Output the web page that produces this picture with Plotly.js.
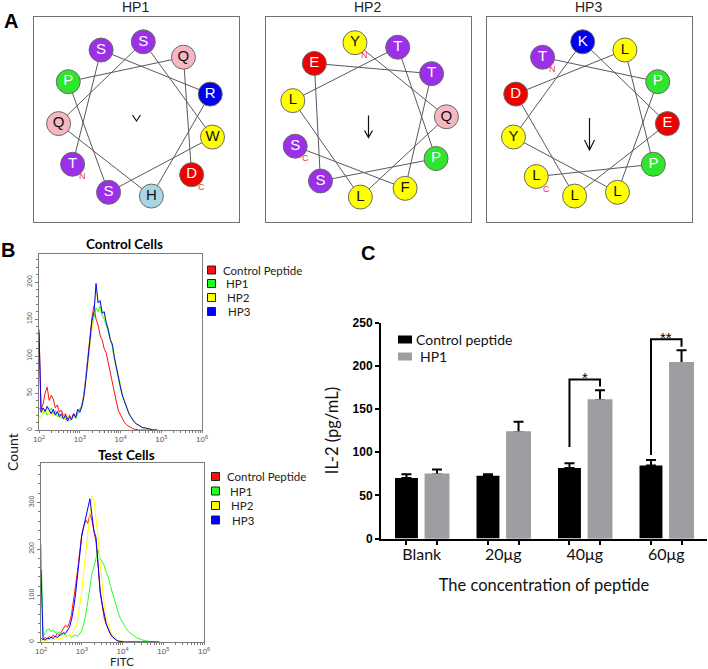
<!DOCTYPE html>
<html>
<head>
<meta charset="utf-8">
<script src="https://cdn.plot.ly/plotly-3.0.1.min.js"></script>
<style>
html,body{margin:0;padding:0;background:#fff;}
#chart{width:708px;height:669px;}
</style>
</head>
<body>
<div id="chart"></div>
<script>
// ======================= DATA =======================
// Panel A – helical wheels (residues listed N -> C in wheel order)
const WHEEL_NAMES = ['HP1', 'HP2', 'HP3'];
const HP1_SEQ = ['T','S','R','H','Q','S','W','S','P','Q','D'];
const HP2_SEQ = ['Y','Q','L','L','T','P','S','E','T','F','S'];
const HP3_SEQ = ['T','P','L','Y','K','E','L','D','L','P','L'];
const WHEEL_START_DEG = [215, 100, 127];   // angle of the N-terminal residue
const WHEEL_STEP_DEG = 98;                 // angular step between residues as drawn
const HP_MOMENT = [0, 22, 32];             // hydrophobic moment arrow length

// Panel B – flow cytometry histograms (log10 FITC channel vs count)
const FLOW_SERIES = ['Control Peptide', 'HP1', 'HP2', 'HP3'];
const LOG_CHANNEL = [2.00,2.05,2.10,2.15,2.20,2.25,2.30,2.35,2.40,2.45,2.50,2.55,2.60,2.65,2.70,2.75,2.80,2.85,2.90,2.95,
  3.00,3.05,3.10,3.15,3.20,3.25,3.30,3.35,3.40,3.45,3.50,3.55,3.60,3.65,3.70,3.75,3.80,3.85,3.90,3.95,
  4.00,4.05,4.10,4.15,4.20,4.25,4.30,4.35,4.40,4.45,4.50,4.55,4.60,4.65,4.70,4.75,4.80,4.85,4.90];
const CTRL_CONTROL_PEPTIDE = [136,28,35,50,58,40,47,42,30,34, 24,27,19,22,15,20,16,22,18,24,
  28,33,48,72,98,128,152,168,150,142, 128,122,110,104,90,76,64,47,38,26,
  20,14,10,7,5,3,2,1,0,0, 0,0,0,0,0,0,0,0,0];
const CTRL_HP1 = [30,26,22,28,20,25,30,22,26,18, 22,16,20,14,18,12,16,20,15,22,
  25,30,44,66,90,118,140,152,165,160, 168,155,150,142,132,120,112,96,82,70,
  56,46,38,30,24,19,14,10,8,6, 4,3,2,2,1,1,0,0,0];
const CTRL_HP2 = [20,15,28,22,30,20,26,18,24,20, 17,22,13,18,20,14,18,16,20,24,
  26,34,46,70,95,120,145,165,185,178, 170,160,155,146,138,125,115,100,86,72,
  60,48,40,32,25,20,15,11,8,6, 5,3,2,2,1,1,0,0,0];
const CTRL_HP3 = [132,24,30,25,32,26,22,28,20,25, 18,22,15,20,12,18,14,22,17,28,
  24,32,45,68,94,122,148,160,198,172, 175,158,160,145,136,122,116,98,84,68,
  58,46,38,30,23,18,14,10,8,6, 4,3,3,2,1,1,0,0,0];
const TEST_CONTROL_PEPTIDE = [8,4,10,6,12,9,15,11,18,14, 22,28,36,32,42,60,88,122,155,195,
  232,250,262,255,275,262,240,215,168,108, 80,52,38,26,18,11,7,4,2,1,
  0,0,0,0,0,0,0,0,0,0, 0,0,0,0,0,0,0,0,0];
const TEST_HP1 = [210,12,20,26,28,22,26,20,18,22, 15,19,14,12,16,10,13,15,12,18,
  24,40,60,88,118,148,162,182,198,180, 172,165,150,140,122,106,92,76,62,50,
  42,34,28,22,18,15,12,9,7,5, 4,3,2,1,1,0,0,0,0];
const TEST_HP2 = [4,2,5,3,6,4,7,5,8,6, 9,8,11,12,15,18,24,30,48,78,
  110,152,195,240,285,315,305,268,225,170, 118,80,56,38,25,16,10,6,3,2,
  1,0,0,0,0,0,0,0,0,0, 0,0,0,0,0,0,0,0,0];
const TEST_HP3 = [155,6,4,8,7,10,8,12,10,14, 16,20,18,25,32,48,72,105,142,185,
  228,248,270,288,308,272,238,225,172,112, 82,58,40,28,18,12,7,4,2,1,
  0,0,0,0,0,0,0,0,0,0, 0,0,0,0,0,0,0,0,0];

// Panel C – IL-2 secretion
const CONC = ['Blank', '20μg', '40μg', '60μg'];
const BAR_SERIES = ['Control peptide', 'HP1'];
const IL2_CONTROL = [70, 72.5, 81.5, 84.5];
const IL2_CONTROL_ERR = [4.5, 2, 5.5, 6.5];
const IL2_HP1 = [74, 123, 160, 203];
const IL2_HP1_ERR = [6, 12, 11.5, 15];
const SIG_CONC = ['40μg', '60μg'];
const SIG_LABEL = ['*', '**'];
const SIG_LEFT_FROM = [106, 96.5];
const SIG_TOP = [184, 230.5];
const SIG_RIGHT_TO = [176, 222];

// ======================= STYLE =======================
const W = 708, H = 669;
const px = v => v / W;
const py = v => (H - v) / H;
const CALIBRI = 'Lato, "Open Sans", sans-serif';
const ARIAL = '"Liberation Sans", Arial, sans-serif';

const RES_FILL = {S:'#9b30e8', T:'#9b30e8', Q:'#f5b8c2', P:'#2ee62e', R:'#0000ee', K:'#0000ee',
  W:'#ffff00', Y:'#ffff00', L:'#ffff00', F:'#ffff00', D:'#ee0000', E:'#ee0000', H:'#a9d6e4'};
const RES_TEXT = {S:'#fff', T:'#fff', Q:'#111', P:'#fff', R:'#fff', K:'#fff',
  W:'#111', Y:'#111', L:'#111', F:'#111', D:'#fff', E:'#fff', H:'#111'};
const WHEEL_BOX_X = [[34, 239], [266, 471], [487, 692]];
const WHEEL_BOX_Y = [17, 222];
const WHEEL_HALF = 102.5;
const WHEEL_R = 78;
const ARROW_TIP = [-1.5, -18, -30.5];
const ARROW_HEAD = [[4, 6], [4, 7], [5, 10]];

const FLOW_COLORS = ['#ff1010', '#22ff22', '#ffff00', '#0000ff'];
const BAR_COLORS = ['#000000', '#9e9ea2'];

const traces = [];
const shapes = [];
const annotations = [];
const layout = {
  width: W, height: H,
  margin: {l: 0, r: 0, t: 0, b: 0},
  paper_bgcolor: '#fff', plot_bgcolor: 'rgba(0,0,0,0)',
  showlegend: false,
  font: {family: ARIAL, size: 12, color: '#000'},
  barmode: 'group', bargap: 0.25, bargroupgap: 0.25
};

function ann(o) { annotations.push(Object.assign({xref: 'paper', yref: 'paper', showarrow: false, borderpad: 0}, o)); }

// ---------------- Panel A ----------------
const SEQS = [HP1_SEQ, HP2_SEQ, HP3_SEQ];
SEQS.forEach((seq, k) => {
  const n = k + 1;
  const xa = 'x' + n, ya = 'y' + n;
  const axBase = {showgrid: false, zeroline: false, showticklabels: false, ticks: '',
    showline: true, mirror: true, linecolor: '#707070', linewidth: 1.2,
    range: [-WHEEL_HALF, WHEEL_HALF], fixedrange: true};
  layout['xaxis' + n] = Object.assign({}, axBase, {domain: [px(WHEEL_BOX_X[k][0]), px(WHEEL_BOX_X[k][1])], anchor: ya});
  layout['yaxis' + n] = Object.assign({}, axBase, {domain: [py(WHEEL_BOX_Y[1]), py(WHEEL_BOX_Y[0])], anchor: xa});

  const ang = seq.map((_, i) => (WHEEL_START_DEG[k] - WHEEL_STEP_DEG * i) * Math.PI / 180);
  const xs = ang.map(a => WHEEL_R * Math.cos(a));
  const ys = ang.map(a => WHEEL_R * Math.sin(a));
  traces.push({type: 'scatter', mode: 'lines', x: xs, y: ys, xaxis: xa, yaxis: ya,
    line: {color: '#5a5a5a', width: 1}, hoverinfo: 'skip'});
  traces.push({type: 'scatter', mode: 'markers+text', x: xs, y: ys, xaxis: xa, yaxis: ya,
    text: seq, textposition: 'middle center',
    textfont: {family: ARIAL, size: 15, color: seq.map(r => RES_TEXT[r])},
    marker: {size: 24, color: seq.map(r => RES_FILL[r]), line: {color: '#6a6a6a', width: 1}},
    hoverinfo: 'text'});
  // N / C terminal labels
  [[0, 'N'], [seq.length - 1, 'C']].forEach(([i, lab]) => {
    annotations.push({xref: xa, yref: ya, x: xs[i], y: ys[i], xshift: 10, yshift: -12,
      text: lab, showarrow: false, font: {family: ARIAL, size: 9, color: '#f03535'}});
  });
  // hydrophobic moment arrow
  const tip = ARROW_TIP[k], tail = tip + HP_MOMENT[k];
  const [hw, hl] = ARROW_HEAD[k];
  let path = `M${-hw},${tip + hl} L0,${tip} L${hw},${tip + hl}`;
  if (HP_MOMENT[k] > 0) path = `M0,${tail} L0,${tip} ` + path;
  shapes.push({type: 'path', xref: xa, yref: ya, path: path, line: {color: '#111', width: 1.2}});
  // wheel title
  ann({x: px((WHEEL_BOX_X[k][0] + WHEEL_BOX_X[k][1]) / 2 - 1), y: py(7), text: WHEEL_NAMES[k],
    font: {family: ARIAL, size: 14, color: '#222'}, xanchor: 'center', yanchor: 'middle'});
});

// ---------------- Panel B ----------------
const FLOW_PANELS = [
  {n: 4, title: 'Control Cells', data: [CTRL_CONTROL_PEPTIDE, CTRL_HP1, CTRL_HP2, CTRL_HP3],
   xd: [39, 202], yd: [254, 430], yr: 238, dt: 50, minor: 10, titleY: 244, legX: 211.5, legY: [270, 283.5, 297.5, 311.5]},
  {n: 5, title: 'Test Cells', data: [TEST_CONTROL_PEPTIDE, TEST_HP1, TEST_HP2, TEST_HP3],
   xd: [41, 204], yd: [463, 642], yr: 385, dt: 100, minor: 20, titleY: 454.5, legX: 215.5, legY: [476.5, 491, 505.5, 520]}
];
const FLOW_X = LOG_CHANNEL.map(v => Math.pow(10, v));
FLOW_PANELS.forEach(p => {
  const xa = 'x' + p.n, ya = 'y' + p.n;
  const common = {showgrid: false, zeroline: false, showline: true, mirror: true,
    linecolor: '#7c7c7c', linewidth: 1, ticks: 'outside', ticklen: 3, tickcolor: '#7c7c7c',
    tickfont: {family: ARIAL, size: 7, color: '#555'}, fixedrange: true};
  layout['xaxis' + p.n] = Object.assign({}, common, {type: 'log', range: [2, 6], dtick: 1,
    exponentformat: 'power', domain: [px(p.xd[0]), px(p.xd[1])], anchor: ya, ticklen: 2,
    tickfont: {family: ARIAL, size: 6.5, color: '#555'},
    minor: {ticks: 'outside', ticklen: 2, dtick: 'D1', tickcolor: '#7c7c7c'}});
  layout['yaxis' + p.n] = Object.assign({}, common, {range: [0, p.yr], dtick: p.dt, tickangle: -90,
    domain: [py(p.yd[1]), py(p.yd[0])], anchor: xa,
    minor: {ticks: 'outside', ticklen: 2, dtick: p.minor, tickcolor: '#7c7c7c'}});
  p.data.forEach((vals, s) => {
    traces.push({type: 'scatter', mode: 'lines', x: FLOW_X, y: vals, xaxis: xa, yaxis: ya,
      name: FLOW_SERIES[s], line: {color: FLOW_COLORS[s], width: 1}, hoverinfo: 'name+y'});
  });
  ann({x: px((p.xd[0] + p.xd[1]) / 2 + 4), y: py(p.titleY), text: '<b>' + p.title + '</b>',
    font: {family: CALIBRI, size: 13.5, color: '#000'}, xanchor: 'center', yanchor: 'middle'});
  FLOW_SERIES.forEach((name, s) => {
    const cy = p.legY[s];
    shapes.push({type: 'rect', xref: 'paper', yref: 'paper',
      x0: px(p.legX - 4), x1: px(p.legX + 4), y0: py(cy + 4), y1: py(cy - 4),
      fillcolor: FLOW_COLORS[s], line: {color: '#222', width: 1}});
    ann({x: px(p.legX + 10 + (s > 0 ? 2 + s : 0)), y: py(cy), text: name, xanchor: 'left', yanchor: 'middle',
      font: {family: CALIBRI, size: 11.5, color: '#222'}});
  });
});
ann({x: px(12), y: py(452), text: 'Count', textangle: -90, xanchor: 'center', yanchor: 'middle',
  font: {family: CALIBRI, size: 14, color: '#222'}});
ann({x: px(122), y: 0, text: 'FITC', xanchor: 'center', yanchor: 'bottom',
  font: {family: CALIBRI, size: 11.5, color: '#222'}});

// ---------------- Panel C ----------------
const C_XD = [381, 707], C_YD = [322.5, 538.5];
const BAR_OFFSET = (1 - layout.bargap) / 4;
layout.xaxis6 = {type: 'category', categoryorder: 'array', categoryarray: CONC, range: [-0.5, 3.5],
  domain: [px(C_XD[0]), px(C_XD[1])], anchor: 'y6', showgrid: false, zeroline: false,
  showline: true, linecolor: '#000', linewidth: 2, ticks: '',
  tickfont: {family: CALIBRI, size: 16, color: '#111'}, fixedrange: true,
  title: {text: 'The concentration of peptide', font: {family: CALIBRI, size: 16.5, color: '#111'}, standoff: 18}};
layout.yaxis6 = {range: [0, 250], dtick: 50, domain: [py(C_YD[1]), py(C_YD[0])], anchor: 'x6',
  showgrid: false, zeroline: false, showline: true, linecolor: '#000', linewidth: 2,
  ticks: 'outside', ticklen: 4, tickwidth: 2, tickcolor: '#000',
  tickfont: {family: ARIAL, size: 12, color: '#000', weight: 'bold'}, fixedrange: true,
  title: {text: 'IL-2 (pg/mL)', font: {family: CALIBRI, size: 16.5, color: '#111'}, standoff: 10}};
const barTicks = [];
CONC.forEach((_, i) => { barTicks.push(i - BAR_OFFSET, i + BAR_OFFSET); });
layout.xaxis7 = {overlaying: 'x6', anchor: 'y6', range: [-0.5, 3.5], showgrid: false, zeroline: false,
  showline: false, showticklabels: false, tickmode: 'array', tickvals: barTicks,
  ticks: 'outside', ticklen: 5, tickwidth: 2, tickcolor: '#000', fixedrange: true};

const zeros = CONC.map(() => 0);
traces.push({type: 'bar', x: CONC, y: IL2_CONTROL, xaxis: 'x6', yaxis: 'y6', name: BAR_SERIES[0],
  offsetgroup: 'ctrl', marker: {color: BAR_COLORS[0], line: {width: 0}},
  error_y: {type: 'data', symmetric: false, array: IL2_CONTROL_ERR, arrayminus: zeros,
    color: '#000', thickness: 2, width: 5}});
traces.push({type: 'bar', x: CONC, y: IL2_HP1, xaxis: 'x6', yaxis: 'y6', name: BAR_SERIES[1],
  offsetgroup: 'hp1', marker: {color: BAR_COLORS[1], line: {width: 0}},
  error_y: {type: 'data', symmetric: false, array: IL2_HP1_ERR, arrayminus: zeros,
    color: '#000', thickness: 2, width: 5}});
// same HP1 bars again on top, hiding the lower cap of the one-sided error bars
traces.push({type: 'bar', x: CONC, y: IL2_HP1, xaxis: 'x6', yaxis: 'y6', name: BAR_SERIES[1],
  offsetgroup: 'hp1', marker: {color: BAR_COLORS[1], line: {width: 2, color: BAR_COLORS[1]}}, hoverinfo: 'skip'});

// significance brackets
const bx = [], by = [];
SIG_CONC.forEach((c, k) => {
  const i = CONC.indexOf(c);
  bx.push(i - BAR_OFFSET, i - BAR_OFFSET, i + BAR_OFFSET, i + BAR_OFFSET, null);
  by.push(SIG_LEFT_FROM[k], SIG_TOP[k], SIG_TOP[k], SIG_RIGHT_TO[k], null);
  annotations.push({xref: 'x7', yref: 'y6', x: i, y: SIG_TOP[k], yshift: 2, text: SIG_LABEL[k],
    showarrow: false, xanchor: 'center', yanchor: 'middle', font: {family: ARIAL, size: 15, color: '#000'}});
});
traces.push({type: 'scatter', mode: 'lines', x: bx, y: by, xaxis: 'x7', yaxis: 'y6',
  line: {color: '#000', width: 2}, hoverinfo: 'skip', connectgaps: false});

// panel C legend
const C_LEG = [{y: 339.5, tx: 415}, {y: 356.5, tx: 419}];
BAR_SERIES.forEach((name, s) => {
  shapes.push({type: 'rect', xref: 'paper', yref: 'paper', x0: px(398), x1: px(412),
    y0: py(C_LEG[s].y + 4), y1: py(C_LEG[s].y - 4), fillcolor: BAR_COLORS[s], line: {width: 0}});
  ann({x: px(C_LEG[s].tx), y: py(C_LEG[s].y), text: name, xanchor: 'left', yanchor: 'middle',
    font: {family: CALIBRI, size: 14, color: '#111'}});
});

// panel letters
ann({x: px(11), y: py(21), text: '<b>A</b>', font: {family: ARIAL, size: 20}, xanchor: 'center', yanchor: 'middle'});
ann({x: px(8), y: py(250), text: '<b>B</b>', font: {family: ARIAL, size: 20}, xanchor: 'center', yanchor: 'middle'});
ann({x: px(368), y: py(253), text: '<b>C</b>', font: {family: ARIAL, size: 20}, xanchor: 'center', yanchor: 'middle'});

layout.shapes = shapes;
layout.annotations = annotations;
Plotly.newPlot('chart', traces, layout, {displayModeBar: false, staticPlot: true});
</script>
</body>
</html>
